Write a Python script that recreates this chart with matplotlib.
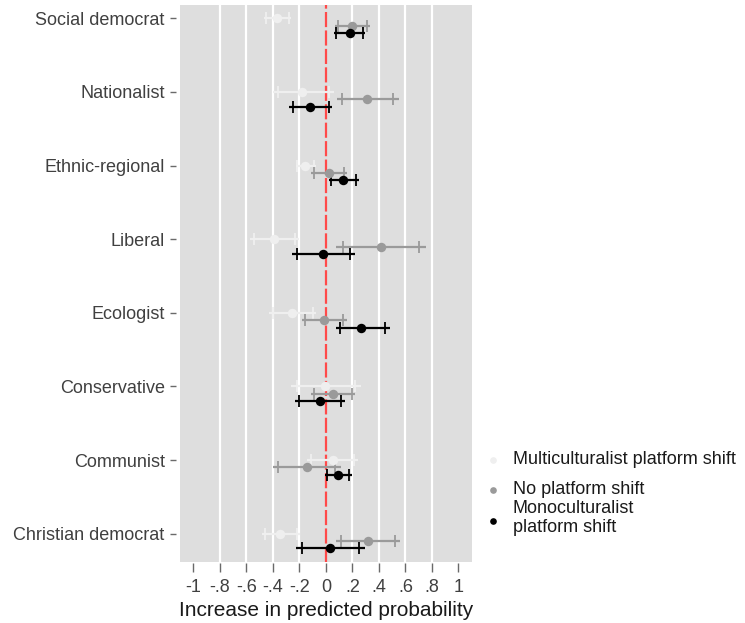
import matplotlib
matplotlib.use("Agg")
import matplotlib.pyplot as plt
from matplotlib.lines import Line2D
import numpy as np

plt.rcParams["font.family"] = ["Liberation Sans", "DejaVu Sans"]

parties = ["Social democrat", "Nationalist", "Ethnic-regional", "Liberal",
           "Ecologist", "Conservative", "Communist", "Christian democrat"]

series_names = ["Multiculturalist platform shift", "No platform shift",
                "Monoculturalist\nplatform shift"]

# Point estimates
multi_est = [-0.365, -0.177, -0.156, -0.388, -0.252, -0.005, 0.053, -0.345]
none_est = [0.196, 0.310, 0.027, 0.415, -0.013, 0.053, -0.143, 0.317]
mono_est = [0.180, -0.118, 0.133, -0.018, 0.266, -0.043, 0.095, 0.032]

# 90% intervals (capped)
multi_lo90 = [-0.450, -0.360, -0.215, -0.540, -0.400, -0.220, -0.110, -0.458]
multi_hi90 = [-0.280, 0.020, -0.090, -0.230, -0.100, 0.220, 0.210, -0.219]
none_lo90 = [0.090, 0.120, -0.090, 0.133, -0.156, -0.088, -0.358, 0.115]
none_hi90 = [0.310, 0.510, 0.140, 0.700, 0.133, 0.196, 0.070, 0.523]
mono_lo90 = [0.078, -0.250, 0.040, -0.220, 0.108, -0.200, 0.007, -0.181]
mono_hi90 = [0.280, 0.025, 0.230, 0.180, 0.448, 0.115, 0.178, 0.251]

# 95% intervals (plain line)
multi_lo95 = [-0.466, -0.395, -0.226, -0.569, -0.428, -0.261, -0.141, -0.480]
multi_hi95 = [-0.264, 0.058, -0.077, -0.200, -0.071, 0.263, 0.240, -0.195]
none_lo95 = [0.070, 0.085, -0.112, 0.079, -0.183, -0.115, -0.399, 0.076]
none_hi95 = [0.332, 0.550, 0.162, 0.755, 0.161, 0.223, 0.111, 0.562]
mono_lo95 = [0.058, -0.275, 0.022, -0.259, 0.078, -0.230, -0.010, -0.222]
mono_hi95 = [0.299, 0.045, 0.249, 0.218, 0.483, 0.145, 0.194, 0.293]

xticks = [-1, -0.8, -0.6, -0.4, -0.2, 0, 0.2, 0.4, 0.6, 0.8, 1]
xtick_labels = ["-1", "-.8", "-.6", "-.4", "-.2", "0", ".2", ".4", ".6", ".8", "1"]

series = [
    (multi_est, multi_lo90, multi_hi90, multi_lo95, multi_hi95, "#efefef", 0.0),
    (none_est, none_lo90, none_hi90, none_lo95, none_hi95, "#9a9a9a", 0.1),
    (mono_est, mono_lo90, mono_hi90, mono_lo95, mono_hi95, "#000000", 0.2),
]

W, H = 745, 623
fig = plt.figure(figsize=(W / 100, H / 100), dpi=100)
ax = fig.add_axes([180 / W, 1 - 561.7 / H, 291.7 / W, 556.7 / H])
ax.set_facecolor("#dedede")

# detach the (hidden) spines a little so the ticks sit off the panel
for side in ("top", "right", "left", "bottom"):
    ax.spines[side].set_visible(False)
ax.spines["left"].set_position(("outward", 3))
ax.spines["bottom"].set_position(("outward", 1.2))

ypos = np.arange(1, len(parties) + 1)

# vertical grid, skipping the axis ends and zero
for gx in xticks:
    if gx not in (-1, 0, 1):
        ax.axvline(gx, color="white", lw=1.6, zorder=1)

ax.axvline(0, color="#ff4a4a", lw=1.6, linestyle=(0, (6.8, 1.5)), zorder=2)

for est, lo90, hi90, lo95, hi95, col, off in series:
    y = ypos + off
    ax.hlines(y, lo95, hi95, color=col, lw=1.6, zorder=3)
    ax.plot(lo90, y, linestyle="none", marker="|", markersize=8,
            markeredgewidth=1.3, color=col, zorder=3)
    ax.plot(hi90, y, linestyle="none", marker="|", markersize=8,
            markeredgewidth=1.3, color=col, zorder=3)
    ax.plot(est, y, linestyle="none", marker="o", markersize=6.8,
            color=col, markeredgewidth=0, zorder=4)

ax.set_xlim(-1.1, 1.1)
ax.set_ylim(8.38, 0.82)
ax.set_yticks(ypos)
ax.set_yticklabels(parties)
ax.set_xticks(xticks)
ax.set_xticklabels(xtick_labels)
ax.set_xlabel("Increase in predicted probability", fontsize=15,
              color="#1a1a1a", labelpad=3)

ax.tick_params(axis="y", length=4, width=1, color="#6a6a6a", pad=4,
               labelsize=13, labelcolor="#404040")
ax.tick_params(axis="x", length=6.5, width=1, color="#6a6a6a", pad=5,
               labelsize=13, labelcolor="#404040")

# legend key, placed by hand to the right of the panel
key_marker_y = [460, 490, 521]
key_text_y = [460, 490, 518]
for (est, lo90, hi90, lo95, hi95, col, off), name, my, ty in zip(
        series, series_names, key_marker_y, key_text_y):
    fig.add_artist(Line2D([493 / W], [1 - my / H], transform=fig.transFigure,
                          linestyle="none", marker="o", markersize=4.8,
                          color=col, markeredgewidth=0))
    fig.text(513 / W, 1 - ty / H, name, fontsize=13, color="#1a1a1a",
             ha="left", va="center", linespacing=1.15)

fig.savefig("out.png", dpi=100)
